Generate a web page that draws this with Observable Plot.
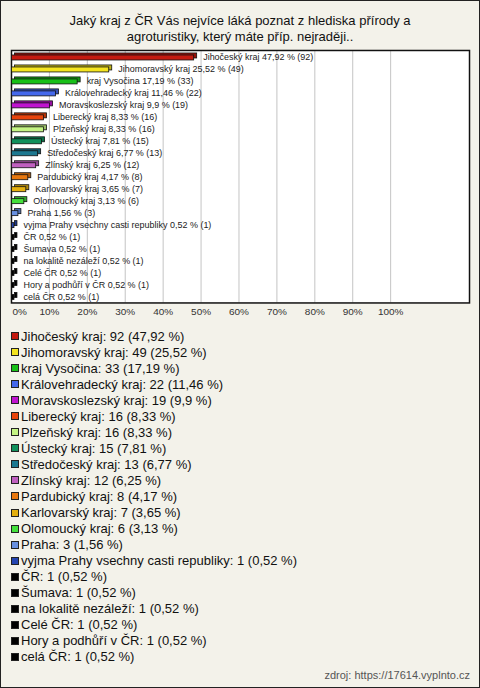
<!DOCTYPE html>
<html><head><meta charset="utf-8">
<script src="https://cdn.jsdelivr.net/npm/d3@7"></script>
<script src="https://cdn.jsdelivr.net/npm/@observablehq/plot@0.6"></script>
<style>
html,body{margin:0;padding:0;background:#fff;}
#frame{position:relative;box-sizing:border-box;width:480px;height:688px;border:1px solid #222;background:#f3f2ea;font-family:"Liberation Sans",Arial,sans-serif;overflow:hidden;color:#111;}
#title{position:absolute;left:0;top:12px;width:478px;text-align:center;font-size:13px;line-height:15.5px;}
#chart{position:absolute;left:-1px;top:43px;}
#legend{position:absolute;left:9px;top:327px;font-size:13px;}
.item{display:flex;align-items:center;height:16.05px;white-space:nowrap;}
.sw{box-sizing:border-box;width:8px;height:8px;border:1px solid #222;margin-left:1px;margin-right:2px;flex:none;}
#source{position:absolute;right:9px;top:667px;font-size:11px;line-height:14px;color:#555;}
</style></head>
<body>
<div id="frame">
  <div id="title">Jaký kraj z ČR Vás nejvíce láká poznat z hlediska přírody a<br>agroturistiky, který máte příp. nejraději..</div>
  <div id="chart"></div>
  <div id="legend"></div>
  <div id="source">zdroj: https://17614.vyplnto.cz</div>
</div>
<script>
const categories = ["Jihočeský kraj","Jihomoravský kraj","kraj Vysočina","Královehradecký kraj","Moravskoslezský kraj","Liberecký kraj","Plzeňský kraj","Ústecký kraj","Středočeský kraj","Zlínský kraj","Pardubický kraj","Karlovarský kraj","Olomoucký kraj","Praha","vyjma Prahy vsechny casti republiky","ČR","Šumava","na lokalitě nezáleží","Celé ČR","Hory a podhůří v ČR","celá ČR"];
const counts = [92,49,33,22,19,16,16,15,13,12,8,7,6,3,1,1,1,1,1,1,1];
const percents = [47.92,25.52,17.19,11.46,9.9,8.33,8.33,7.81,6.77,6.25,4.17,3.65,3.13,1.56,0.52,0.52,0.52,0.52,0.52,0.52,0.52];
const colors = ["#c41a10","#f4e420","#18c018","#4468ec","#c014d0","#e8440c","#c4f484","#10905c","#1c7890","#c060c0","#e87810","#e4b010","#44e03c","#6890e0","#2444b0","#000000","#000000","#000000","#000000","#000000","#000000"];
const xTicks = [0,10,20,30,40,50,60,70,80,90,100];

const fmt = v => String(v).replace(".", ",");
const rows = categories.map((c,i)=>({cat:c, pct:percents[i], n:counts[i], color:colors[i], dark:d3.color(colors[i]).darker(0.7).formatHex()}));

const chart = Plot.plot({
  width:480, height:282,
  marginTop:6, marginBottom:23, marginLeft:11, marginRight:10,
  x:{domain:[0,120.8], axis:null},
  y:{domain:categories, axis:null, padding:0},
  color:{type:"identity"},
  style:{background:"transparent", fontFamily:"'Liberation Sans', Arial, sans-serif", overflow:"visible"},
  marks:[
    Plot.frame({fill:"white"}),
    Plot.ruleX(xTicks, {stroke:"#c4c4c4"}),
    Plot.frame({stroke:"#111", strokeWidth:1.5}),
    Plot.barX(rows, {x:"pct", y:"cat", fill:"dark", stroke:"#111", strokeWidth:0.8, insetTop:3.5, insetBottom:3.5, insetLeft:0.5, insetRight:-1, dx:3, dy:-1.5}),
    Plot.barX(rows, {x:"pct", y:"cat", fill:"color", stroke:"#111", strokeWidth:0.8, insetTop:3.5, insetBottom:3.5, insetLeft:0.5, insetRight:-1, dy:0.5}),
    Plot.text(rows, {x:"pct", y:"cat", text:d=>`${d.cat} ${fmt(d.pct)} % (${d.n})`, textAnchor:"start", dx:10, fontSize:9, fill:"#222"}),
    Plot.text(xTicks.filter(t=>t===0), {x:d=>d, text:d=>d+"%", frameAnchor:"bottom", dy:12, textAnchor:"start", dx:1, fontSize:10, fill:"#333"}),
    Plot.text(xTicks.filter(t=>t>0), {x:d=>d, text:d=>d+"%", frameAnchor:"bottom", dy:12, fontSize:10, fill:"#333"})
  ]
});
document.getElementById("chart").appendChild(chart);

const legend = document.getElementById("legend");
rows.forEach(r=>{
  const it = document.createElement("div"); it.className="item";
  const sw = document.createElement("span"); sw.className="sw"; sw.style.background=r.color;
  const tx = document.createElement("span"); tx.textContent = `${r.cat}: ${r.n} (${fmt(r.pct)} %)`;
  it.appendChild(sw); it.appendChild(tx); legend.appendChild(it);
});
</script>
</body></html>
